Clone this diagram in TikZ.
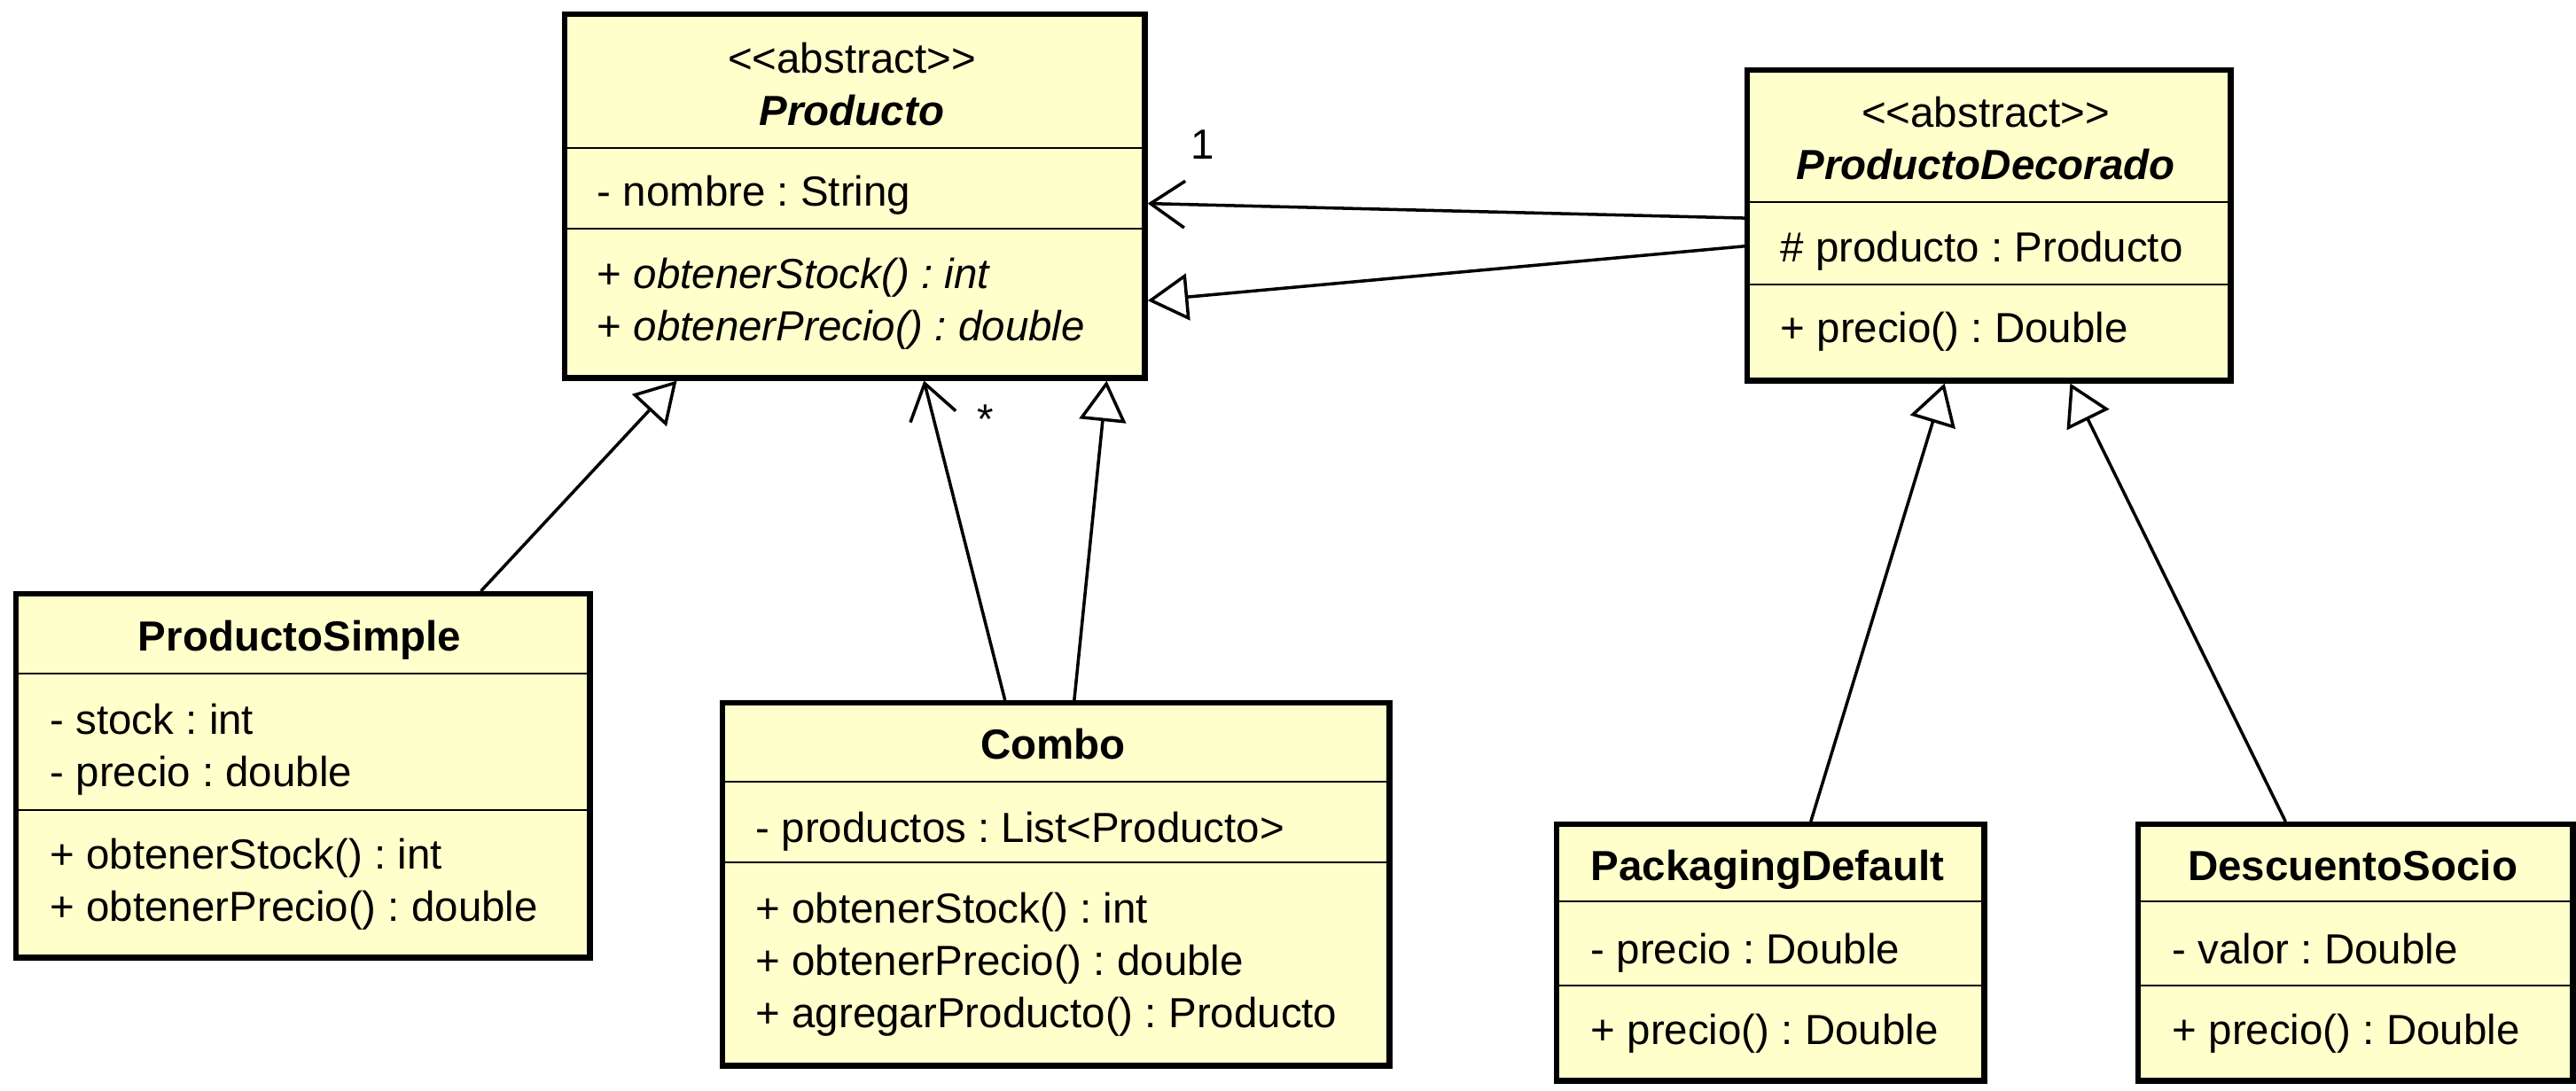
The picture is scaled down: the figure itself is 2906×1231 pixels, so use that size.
\documentclass[tikz,border=0pt]{standalone}
\usepackage{fontspec}
\setmainfont{Liberation Sans}
\usetikzlibrary{arrows.meta,calc}
\definecolor{clsfill}{HTML}{FFFFCC}
\frenchspacing
\tikzset{
  cls/.style={draw, line width=1.8pt, fill=clsfill, anchor=north west, inner sep=0pt},
  sepline/.style={line width=0.8pt},
  member/.style={anchor=base west, inner sep=0pt, font=\fontsize{13.5pt}{16.8pt}\selectfont},
  title/.style={anchor=base, inner sep=0pt, font=\fontsize{13.5pt}{16.8pt}\selectfont\bfseries},
  inherit/.style={line width=1pt, -{Triangle[fill=white, length=13pt, width=15pt]}},
  assoc/.style={line width=1pt, -{Straight Barb[length=11pt, width=15pt]}},
  mult/.style={inner sep=0pt, font=\fontsize{13.5pt}{16.8pt}\selectfont}
}

\begin{document}
\begin{tikzpicture}[x=0.01cm, y=-0.01cm]
  \useasboundingbox (0,0) rectangle (2906,1231);
  % Producto
  \node[cls, minimum width=6.54cm, minimum height=4.10cm] (prod) at (634,13) {};
  \foreach \d in {154,245} \draw[sepline] ($(prod.north west)+(0,\d)$) -- ($(prod.north east)+(0,\d)$);
  \node[member, anchor=base] (prod-st) at (961,83) {<{}<abstract>{}>};
  \node[title] (prod-t) at (961,142) {\textit{Producto}};
  \node[member] (prod-a1) at (673,233) {- nombre : String};
  \node[member] (prod-m1) at (673,326) {+ \textit{obtenerStock() : int}};
  \node[member] (prod-m2) at (673,385) {+ \textit{obtenerPrecio() : double}};
  % ProductoDecorado
  \node[cls, minimum width=5.45cm, minimum height=3.50cm] (deco) at (1968,76) {};
  \foreach \d in {152,245} \draw[sepline] ($(deco.north west)+(0,\d)$) -- ($(deco.north east)+(0,\d)$);
  \node[member, anchor=base] (deco-st) at (2240,144) {<{}<abstract>{}>};
  \node[title] (deco-t) at (2240,203) {\textit{ProductoDecorado}};
  \node[member] (deco-a1) at (2008,296) {\# producto : Producto};
  \node[member] (deco-m1) at (2008,387) {+ precio() : Double};
  % ProductoSimple
  \node[cls, minimum width=6.47cm, minimum height=4.10cm] (simple) at (15,667) {};
  \foreach \d in {93,247} \draw[sepline] ($(simple.north west)+(0,\d)$) -- ($(simple.north east)+(0,\d)$);
  \node[title] (simple-t) at (338,735) {ProductoSimple};
  \node[member] (simple-a1) at (56,828) {- stock : int};
  \node[member] (simple-a2) at (56,887) {- precio : double};
  \node[member] (simple-m1) at (56,980) {+ obtenerStock() : int};
  \node[member] (simple-m2) at (56,1039) {+ obtenerPrecio() : double};
  % Combo
  \node[cls, minimum width=7.52cm, minimum height=4.09cm] (combo) at (812,790) {};
  \foreach \d in {92,183} \draw[sepline] ($(combo.north west)+(0,\d)$) -- ($(combo.north east)+(0,\d)$);
  \node[title] (combo-t) at (1188,856) {Combo};
  \node[member] (combo-a1) at (852,950) {- productos : List<Producto>};
  \node[member] (combo-m1) at (852,1041) {+ obtenerStock() : int};
  \node[member] (combo-m2) at (852,1100) {+ obtenerPrecio() : double};
  \node[member] (combo-m3) at (852,1159) {+ agregarProducto() : Producto};
  % PackagingDefault
  \node[cls, minimum width=4.82cm, minimum height=2.89cm] (pack) at (1753,927) {};
  \foreach \d in {90,185} \draw[sepline] ($(pack.north west)+(0,\d)$) -- ($(pack.north east)+(0,\d)$);
  \node[title] (pack-t) at (1994,993) {PackagingDefault};
  \node[member] (pack-a1) at (1794,1087) {- precio : Double};
  \node[member] (pack-m1) at (1794,1178) {+ precio() : Double};
  % DescuentoSocio
  \node[cls, minimum width=4.90cm, minimum height=2.89cm] (desc) at (2409,927) {};
  \foreach \d in {90,185} \draw[sepline] ($(desc.north west)+(0,\d)$) -- ($(desc.north east)+(0,\d)$);
  \node[title] (desc-t) at (2654,993) {DescuentoSocio};
  \node[member] (desc-a1) at (2450,1087) {- valor : Double};
  \node[member] (desc-m1) at (2450,1178) {+ precio() : Double};
  % relations
  \draw[inherit] ($(simple.north west)!0.807!(simple.north east)$) -- ($(prod.south west)!0.196!(prod.south east)$);
  \draw[assoc] ($(combo.north west)!0.424!(combo.north east)$) -- ($(prod.south west)!0.618!(prod.south east)$);
  \draw[inherit] ($(combo.north west)!0.527!(combo.north east)$) -- ($(prod.south west)!0.930!(prod.south east)$);
  \draw[assoc] ($(deco.north west)!0.477!(deco.south west)$) -- ($(prod.north east)!0.520!(prod.south east)$);
  \draw[inherit] ($(deco.north west)!0.566!(deco.south west)$) -- ($(prod.north east)!0.783!(prod.south east)$);
  \draw[inherit] ($(pack.north west)!0.593!(pack.north east)$) -- ($(deco.south west)!0.409!(deco.south east)$);
  \draw[inherit] ($(desc.north west)!0.341!(desc.north east)$) -- ($(deco.south west)!0.666!(deco.south east)$);
  \node[mult] (m-one) at (1357,163) {1};
  \node[mult] (m-many) at (1112,473) {*};
\end{tikzpicture}
\end{document}
